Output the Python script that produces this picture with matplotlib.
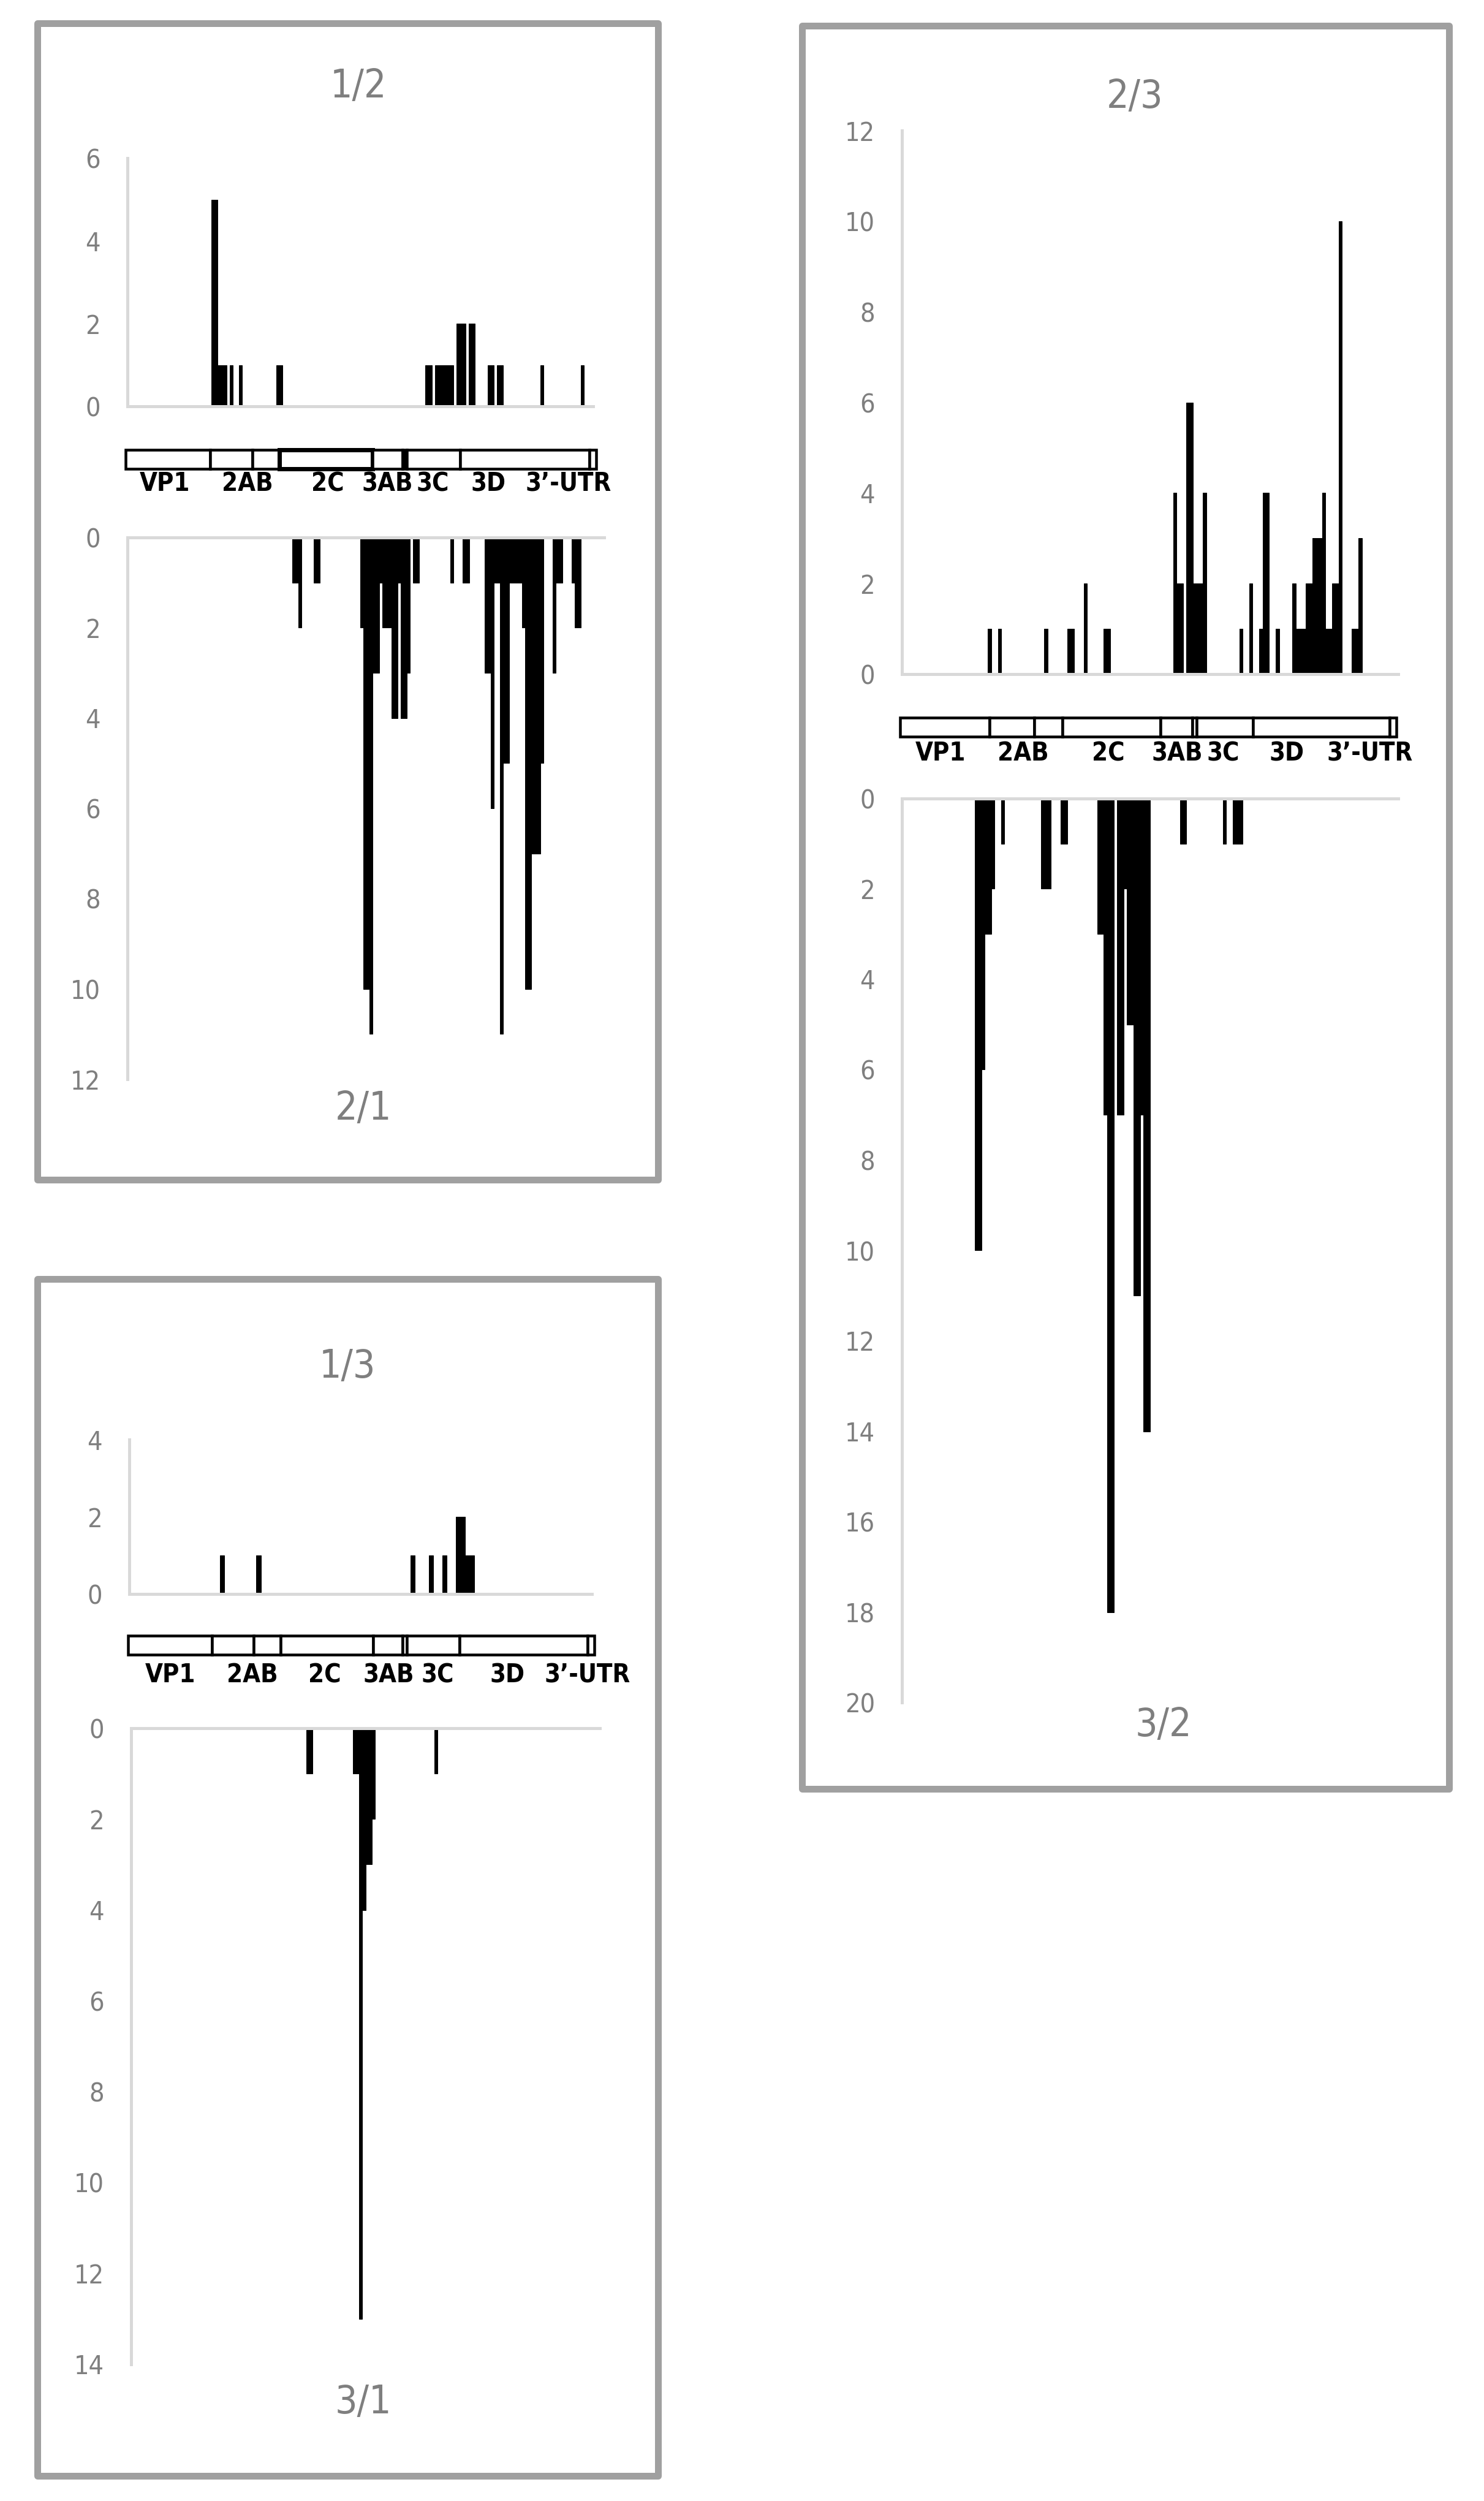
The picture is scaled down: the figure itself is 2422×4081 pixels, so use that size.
import matplotlib
matplotlib.use("Agg")
import matplotlib.pyplot as plt
from matplotlib import font_manager
from matplotlib.patches import Rectangle

W, H = 2422, 4081
DPI = 100

# mutation counts per genome bin (bin width 1)
bins_12 = [27, 28, 29, 30, 31, 33, 36, 48, 49, 96, 97, 99, 100, 101, 102, 103,
           104, 106, 107, 108, 110, 111, 116, 117, 119, 120, 133, 146]
vals_12 = [5, 5, 1, 1, 1, 1, 1, 1, 1, 1, 1, 1, 1, 1, 1, 1,
           1, 2, 2, 2, 2, 2, 1, 1, 1, 1, 1, 1]

bins_21 = [53, 54, 55, 60, 61, 75, 76, 77, 78, 79, 80, 81, 82, 83, 84, 85, 86,
           87, 88, 89, 90, 92, 93, 104, 108, 109, 115, 116, 117, 118, 119, 120,
           121, 122, 123, 124, 125, 126, 127, 128, 129, 130, 131, 132, 133,
           137, 138, 139, 143, 144, 145]
vals_21 = [1, 1, 2, 1, 1, 2, 10, 10, 11, 3, 3, 1, 2, 2, 2, 4, 4,
           1, 4, 4, 3, 1, 1, 1, 1, 1, 3, 3, 6, 1, 1, 11,
           5, 5, 1, 1, 1, 1, 2, 10, 10, 7, 7, 7, 5,
           3, 1, 1, 1, 2, 2]

bins_23 = [26, 29, 43, 50, 51, 55, 61, 62, 82, 83, 84, 86, 87, 88, 89, 90, 91,
           102, 105, 108, 109, 110, 113, 118, 119, 120, 121, 122, 123, 124,
           125, 126, 127, 128, 129, 130, 131, 132, 136, 137, 138]
vals_23 = [1, 1, 1, 1, 1, 2, 1, 1, 4, 2, 2, 6, 6, 2, 2, 2, 4,
           1, 2, 1, 4, 4, 1, 2, 1, 1, 1, 2, 2, 3,
           3, 3, 4, 1, 1, 2, 2, 10, 1, 1, 3]

bins_32 = [22, 23, 24, 25, 26, 27, 30, 42, 43, 44, 48, 49, 59, 60, 61, 62, 63,
           65, 66, 67, 68, 69, 70, 71, 72, 73, 74, 84, 85, 97, 100, 101, 102]
vals_32 = [10, 10, 6, 3, 3, 2, 1, 2, 2, 2, 1, 1, 3, 3, 7, 18, 18,
           7, 7, 2, 5, 5, 11, 11, 7, 14, 14, 1, 1, 1, 1, 1, 1]

bins_13 = [20, 28, 62, 66, 69, 72, 73, 74, 75]
vals_13 = [1, 1, 1, 1, 1, 2, 2, 1, 1]

bins_31 = [56, 57, 71, 72, 73, 74, 75, 76, 77, 97]
vals_31 = [1, 1, 1, 1, 13, 4, 3, 3, 2, 1]

# genome map: segment edges as fraction of the bar, label centres
seg_edges = [0.0, 0.18, 0.27, 0.327, 0.525, 0.589, 0.598, 0.711, 0.986, 1.0]
gene_names = ["VP1", "2AB", "2C", "3AB", "3C", "3D", "3\u2019-UTR"]
label_x_a = [0.083, 0.259, 0.430, 0.556, 0.653, 0.771, 0.941]
label_x_b = [0.081, 0.248, 0.419, 0.558, 0.651, 0.779, 0.946]
label_x_c = [0.091, 0.266, 0.421, 0.559, 0.664, 0.814, 0.985]

GREY_TXT = "#7f7f7f"
AXIS_GREY = "#d9d9d9"
BOX_GREY = "#a0a0a0"

names = {f.name for f in font_manager.fontManager.ttflist}
FONT = "Liberation Sans Narrow" if "Liberation Sans Narrow" in names else "DejaVu Sans"
STRETCH = "normal" if FONT == "Liberation Sans Narrow" else "condensed"


def pt(px):
    """pixels -> points"""
    return px * 72.0 / DPI


def rect(x0, y0, x1, y1):
    """pixel box (top-left origin) -> figure fraction"""
    return [x0 / W, 1 - y1 / H, (x1 - x0) / W, (y1 - y0) / H]


def bars(fig, box, xb, yv, nbins, ymax, down):
    ax = fig.add_axes(rect(*box))
    ax.bar(xb, yv, width=1, align="edge", color="black",
           edgecolor="black", linewidth=0.7)
    ax.set_xlim(0, nbins)
    if down:
        ax.set_ylim(ymax, 0)
    else:
        ax.set_ylim(0, ymax)
    ax.set_facecolor("none")
    for s in ax.spines.values():
        s.set_visible(False)
    ax.spines["left"].set_visible(True)
    edge = "top" if down else "bottom"
    ax.spines[edge].set_visible(True)
    for s in ("left", edge):
        ax.spines[s].set_color(AXIS_GREY)
        ax.spines[s].set_linewidth(pt(5))
    ax.set_xticks([])
    ax.set_yticks(range(0, ymax + 1, 2))
    ax.tick_params(axis="y", length=0, pad=pt(44), labelsize=31,
                   labelcolor=GREY_TXT)
    for lab in ax.get_yticklabels():
        lab.set_family(FONT)
        lab.set_stretch(STRETCH)
    return ax


def genome(fig, x0, x1, y0, y1, label_y, label_x, heavy):
    ax = fig.add_axes(rect(x0, y0, x1, y1))
    ax.set_xlim(0, 1)
    ax.set_ylim(0, 1)
    ax.axis("off")
    for i in range(len(seg_edges) - 1):
        lw = pt(4.5)
        face = "white"
        if heavy and i == 3:
            lw = pt(7)
        if heavy and i == 5:
            face = "black"
        ax.add_patch(Rectangle((seg_edges[i], 0), seg_edges[i + 1] - seg_edges[i], 1,
                               facecolor=face, edgecolor="black", linewidth=lw,
                               clip_on=False, joinstyle="miter"))
    ly = (y1 - label_y) / (y1 - y0)
    for name, lx in zip(gene_names, label_x):
        ax.text(lx, ly, name, ha="center", va="center", fontsize=30,
                fontweight="bold", family=FONT, stretch=STRETCH, color="black")


def title(fig, x, y, s):
    fig.text(x / W, 1 - y / H, s, ha="center", va="center", fontsize=46,
             color=GREY_TXT, family=FONT, stretch=STRETCH)


def frame(fig, x0, y0, x1, y1):
    fig.patches.append(Rectangle((x0 / W, 1 - y1 / H), (x1 - x0) / W, (y1 - y0) / H,
                                 transform=fig.transFigure, fill=False,
                                 edgecolor=BOX_GREY, linewidth=pt(11),
                                 joinstyle="round"))


fig = plt.figure(figsize=(W / DPI, H / DPI), dpi=DPI)
fig.patch.set_facecolor("white")

# panel 1/2 - 2/1
frame(fig, 61, 38, 1074, 1925)
title(fig, 585, 141, "1/2")
bars(fig, (208, 258, 968, 663), bins_12, vals_12, 150, 6, False)
genome(fig, 205, 973, 734, 765, 789, label_x_a, True)
bars(fig, (208, 877, 986, 1761), bins_21, vals_21, 153.5, 12, True)
title(fig, 593, 1809, "2/1")

# panel 2/3 - 3/2
frame(fig, 1309, 42, 2365, 2919)
title(fig, 1852, 158, "2/3")
bars(fig, (1472, 213, 2282, 1100), bins_23, vals_23, 150, 12, False)
genome(fig, 1469, 2279, 1171, 1202, 1229, label_x_b, False)
bars(fig, (1472, 1303, 2282, 2778), bins_32, vals_32, 150, 20, True)
title(fig, 1899, 2815, "3/2")

# panel 1/3 - 3/1
frame(fig, 61, 2087, 1074, 4040)
title(fig, 567, 2230, "1/3")
bars(fig, (211, 2349, 966, 2601), bins_13, vals_13, 102, 4, False)
genome(fig, 209, 970, 2669, 2700, 2733, label_x_c, False)
bars(fig, (214, 2820, 979, 3858), bins_31, vals_31, 150, 14, True)
title(fig, 593, 3920, "3/1")

fig.savefig("out.png", dpi=DPI)
